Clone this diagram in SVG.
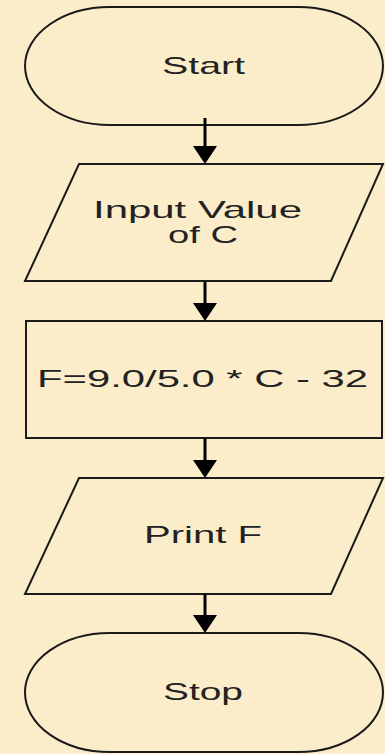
<svg xmlns="http://www.w3.org/2000/svg" width="385" height="754" viewBox="0 0 385 754">
<style>
.shape{fill:#FCEDCA;stroke:#1a1a1a;stroke-width:2}
.lbl{font-family:"Liberation Sans",Arial,sans-serif;font-size:24px;fill:#222;text-anchor:middle}
.conn{stroke:#000;stroke-width:3;fill:none}
</style>
<defs>
<marker id="ah" markerUnits="userSpaceOnUse" markerWidth="24" markerHeight="18" viewBox="0 0 24 18" refX="12" refY="18" orient="auto-start-reverse">
<path d="M0,0 L24,0 L12,18 Z" fill="#000" transform="rotate(0)"/>
</marker>
</defs>
<rect width="385" height="754" fill="#FCEDCA"/>
<g id="start">
<path class="shape" d="M110,7 H298 A85,59 0 0 1 298,125 H110 A85,59 0 0 1 110,7 Z"/>
<text class="lbl" x="203.5" y="74" textLength="83" lengthAdjust="spacingAndGlyphs">Start</text>
</g>
<g id="input">
<path class="shape" d="M79,164 H383 L331,281 H25 Z"/>
<text class="lbl" x="197.5" y="218" textLength="209" lengthAdjust="spacingAndGlyphs">Input Value</text>
<text class="lbl" x="203" y="243" textLength="70" lengthAdjust="spacingAndGlyphs">of C</text>
</g>
<g id="process">
<rect class="shape" x="26" y="321" width="356" height="117"/>
<text class="lbl" x="202.5" y="387" textLength="331" lengthAdjust="spacingAndGlyphs">F=9.0/5.0 * C - 32</text>
</g>
<g id="print">
<path class="shape" d="M79,478 H383 L331,594 H25 Z"/>
<text class="lbl" x="203" y="543" textLength="118" lengthAdjust="spacingAndGlyphs">Print F</text>
</g>
<g id="stop">
<path class="shape" d="M110,633 H298 A85,59.5 0 0 1 298,752 H110 A85,59.5 0 0 1 110,633 Z"/>
<text class="lbl" x="203" y="700" textLength="80" lengthAdjust="spacingAndGlyphs">Stop</text>
</g>
<g id="connectors">
<path d="M205,118 V150" class="conn"/>
<path d="M193,146 H217 L205,164 Z" fill="#000"/>
<path d="M205,281 V306" class="conn"/>
<path d="M193,303 H217 L205,321 Z" fill="#000"/>
<path d="M205,438 V462" class="conn"/>
<path d="M193,460 H217 L205,478 Z" fill="#000"/>
<path d="M205,594 V618" class="conn"/>
<path d="M193,615 H217 L205,633 Z" fill="#000"/>
</g>
</svg>
